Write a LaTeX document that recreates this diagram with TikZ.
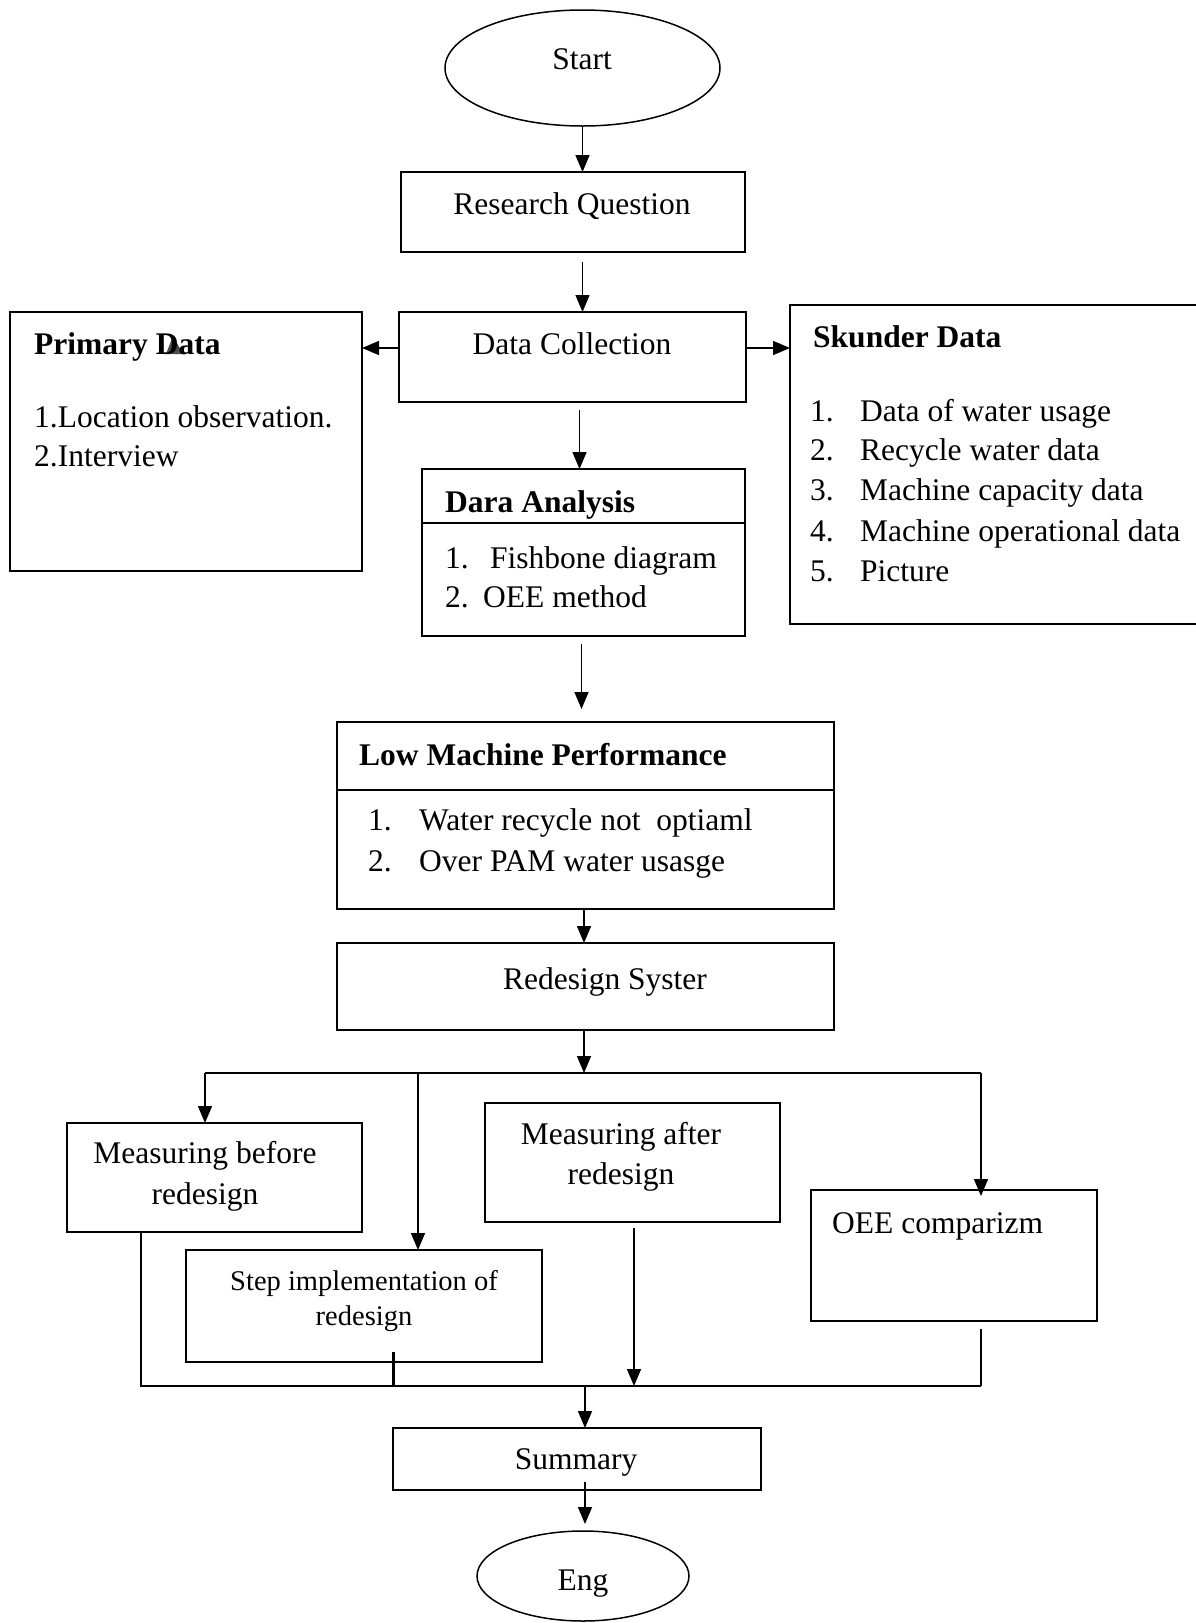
\documentclass[tikz,border=0pt]{standalone}
\usepackage{fontspec}
\setmainfont{Liberation Serif}
\usetikzlibrary{arrows.meta,shapes.geometric,calc}
\begin{document}
\begin{tikzpicture}[x=1pt,y=-1pt,
  box/.style={draw, line width=1.6pt, inner sep=0pt, outer sep=0pt, rectangle},
  oval/.style={draw, line width=1.5pt, ellipse, inner sep=0pt, outer sep=0pt},
  conn/.style={line width=1.5pt},
  arr/.style={conn, -{Triangle[length=17pt,width=14pt]}},
  txt/.style={inner sep=0pt, font=\fontsize{31.5pt}{40pt}\selectfont},
  btxt/.style={inner sep=0pt, font=\fontsize{31.5pt}{40pt}\selectfont\bfseries},
  stxt/.style={inner sep=0pt, font=\fontsize{28.5pt}{35pt}\selectfont},
]
\useasboundingbox[fill=white] (0,0) rectangle (1195,1623);

% shapes
\node[oval, minimum width=275pt, minimum height=116pt] (start) at (582.5,68) {};
\node[box, minimum width=344pt, minimum height=80pt] (rq) at (573,212) {};
\node[box, minimum width=347pt, minimum height=90pt] (dc) at (572.5,357) {};
\node[box, minimum width=352pt, minimum height=259pt] (prim) at (186,441.5) {};
\node[box, minimum width=410pt, minimum height=319pt] (sk) at (995,464.5) {};
\node[box, minimum width=323pt, minimum height=167pt] (da) at (583.5,552.5) {};
\node[box, minimum width=497pt, minimum height=187pt] (low) at (585.5,815.5) {};
\node[box, minimum width=497pt, minimum height=87pt] (red) at (585.5,986.5) {};
\node[box, minimum width=295pt, minimum height=109pt] (mb) at (214.5,1177.5) {};
\node[box, minimum width=356pt, minimum height=112pt] (step) at (364,1306) {};
\node[box, minimum width=295pt, minimum height=119pt] (ma) at (632.5,1162.5) {};
\node[box, minimum width=286pt, minimum height=131pt] (oee) at (954,1255.5) {};
\node[box, minimum width=368pt, minimum height=62pt] (sum) at (577,1459) {};
\node[oval, minimum width=212pt, minimum height=90pt] (eng) at (583,1576) {};

% dividers
\coordinate (dv1) at (0,523);
\coordinate (dv2) at (0,790);
\draw[conn] (da.west |- dv1) -- (da.east |- dv1);
\draw[conn] (low.west |- dv2) -- (low.east |- dv2);

% artifact triangle
\fill[gray!60!black] (166,354) -- (183,354) -- (173,336) -- cycle;

% texts
\node[txt, anchor=base] (tstart) at (582,69) {Start};
\node[txt, anchor=base] (trq) at (572,214) {Research Question};
\node[txt, anchor=base] (tdc) at (572,354) {Data Collection};
\node[btxt, anchor=base west] (tprim) at (34,354) {Primary Data};
\node[txt, anchor=base west] (tp1) at (34,427) {1.Location observation.};
\node[txt, anchor=base west] (tp2) at (34,466) {2.Interview};
\node[btxt, anchor=base west] (tsk) at (813,347) {Skunder Data};
\node[txt, anchor=base west] (sn1) at (810,421) {1.};
\node[txt, anchor=base west] (sn2) at (810,460) {2.};
\node[txt, anchor=base west] (sn3) at (810,500) {3.};
\node[txt, anchor=base west] (sn4) at (810,541) {4.};
\node[txt, anchor=base west] (sn5) at (810,581) {5.};
\node[txt, anchor=base west] (st1) at (860,421) {Data of water usage};
\node[txt, anchor=base west] (st2) at (860,460) {Recycle water data};
\node[txt, anchor=base west] (st3) at (860,500) {Machine capacity data};
\node[txt, anchor=base west] (st4) at (860,541) {Machine operational data};
\node[txt, anchor=base west] (st5) at (860,581) {Picture};
\node[btxt, anchor=base west] (tda) at (445,512) {Dara Analysis};
\node[txt, anchor=base west] (dn1) at (445,568) {1.};
\node[txt, anchor=base west] (dt1) at (490,568) {Fishbone diagram};
\node[txt, anchor=base west] (dn2) at (445,607) {2.};
\node[txt, anchor=base west] (dt2) at (483,607) {OEE method};
\node[btxt, anchor=base west] (tlow) at (359,765) {Low Machine Performance};
\node[txt, anchor=base west] (ln1) at (368,830) {1.};
\node[txt, anchor=base west] (lt1) at (419,830) {Water recycle not\ \ optiaml};
\node[txt, anchor=base west] (ln2) at (368,871) {2.};
\node[txt, anchor=base west] (lt2) at (419,871) {Over PAM water usasge};
\node[txt, anchor=base] (tred) at (605,989) {Redesign Syster};
\node[txt, align=center, font=\fontsize{31.5pt}{41pt}\selectfont] (tmb) at (205,1176) {Measuring before\\redesign};
\node[stxt, align=center] (tstep) at (364,1301) {Step implementation of\\redesign};
\node[txt, align=center] (tma) at (621,1157) {Measuring after\\redesign};
\node[txt, anchor=base west] (toee) at (832,1233) {OEE comparizm};
\node[txt, anchor=base] (tsum) at (576,1469) {Summary};
\node[txt, anchor=base] (teng) at (583,1590) {Eng};

% connector coordinates
\coordinate (bl) at (205,1073);
\coordinate (bm) at (418,1073);
\coordinate (bc) at (584,1073);
\coordinate (br) at (981,1073);
\coordinate (ll) at (141,1386);
\coordinate (ls) at (393,1386);
\coordinate (lc) at (585,1386);
\coordinate (mx) at (634,1386);
\coordinate (lr) at (981,1386);

% connectors
\draw[arr] (start.south) -- (start.south |- rq.north);
\draw[arr] ([yshift=-10pt]rq.south -| start.south) -- (dc.north -| start.south);
\draw[arr] ([yshift=9pt]dc.west) -- ([yshift=9pt]dc.west -| prim.east);
\draw[arr] ([yshift=9pt]dc.east) -- ([yshift=9pt]dc.east -| sk.west);
\draw[arr] ([xshift=-4pt,yshift=-8pt]da.north |- dc.south) -- ([xshift=-4pt]da.north);
\draw[arr] ([xshift=-2pt,yshift=-8pt]da.south) -- ([xshift=-4pt,yshift=13pt]low.north);
\draw[arr] ([xshift=-1.5pt]low.south) -- ([xshift=-1.5pt]red.north);
\draw[arr] ([xshift=-1.5pt]red.south) -- (bc);
\draw[conn] (bl) -- (br);
\draw[arr] (bl) -- (bl |- mb.north);
\draw[arr] (bm) -- (bm |- step.north);
\draw[arr] (br) -- ([yshift=-6pt]br |- oee.north);
\draw[conn] (mb.south -| ll) -- (ll) -- (lr);
\draw[conn] ([yshift=-8pt]oee.south -| lr) -- (lr);
\draw[line width=3pt] ([yshift=10pt]step.south -| ls) -- (ls);
\draw[arr] ([yshift=-6pt]ma.south -| mx) -- (mx);
\draw[arr] (lc) -- (lc |- sum.north);
\draw[arr] ([yshift=8pt]sum.south -| lc) -- ([yshift=7pt]lc |- eng.north);
\end{tikzpicture}
\end{document}
